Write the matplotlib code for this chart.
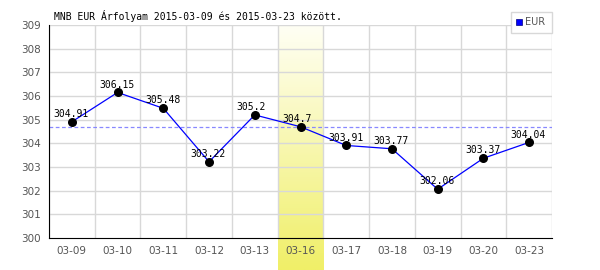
import numpy as np
import matplotlib
matplotlib.use('Agg')
from matplotlib import pyplot as plt
from matplotlib.colors import LinearSegmentedColormap

dates = ['03-09', '03-10', '03-11', '03-12', '03-13', '03-16',
         '03-17', '03-18', '03-19', '03-20', '03-23']
eur = [304.91, 306.15, 305.48, 303.22, 305.2, 304.7,
       303.91, 303.77, 302.06, 303.37, 304.04]
labels = ['304.91', '306.15', '305.48', '303.22', '305.2', '304.7',
          '303.91', '303.77', '302.06', '303.37', '304.04']
highlight = 5
title = 'MNB EUR Árfolyam 2015-03-09 és 2015-03-23 között.'

fig = plt.figure(figsize=(6, 2.7), dpi=100)
L, R, B, T = 49/600, 552/600, 32/270, 245/270

# yellow highlight band reaching down to the bottom edge
n = len(dates)
bx0 = L + (R - L) * highlight / n
bw = (R - L) / n
bg = fig.add_axes([bx0, 0, bw, T], zorder=0)
cmap = LinearSegmentedColormap.from_list('y', ['#fffff4', '#f0ef68'])
bg.imshow(np.linspace(0, 1, 100).reshape(-1, 1), aspect='auto', cmap=cmap,
          extent=[0, 1, 0, 1], origin='upper')
bg.axis('off')

ax = fig.add_axes([L, B, R - L, T - B], zorder=1)
ax.patch.set_alpha(0)
x = np.arange(n)
ax.set_xlim(-0.5, n - 0.5)
ax.set_ylim(300, 309)
ax.set_yticks(range(300, 310))
ax.set_xticks(x)
ax.set_xticklabels(dates)
for v in np.arange(-0.5, n, 1):
    ax.axvline(v, color='#d8d8d8', lw=1, zorder=0)
for v in range(301, 310):
    ax.axhline(v, color='#d8d8d8', lw=1, zorder=0)
ax.axhline(eur[highlight], color='#8888ff', lw=0.9, ls=(0, (3, 2)), zorder=1)

ax.plot(x, eur, color='#0000ff', lw=0.9, zorder=2)
ax.scatter(x, eur, s=30, color='black', zorder=3)
for i, (xv, yv) in enumerate(zip(x, eur)):
    ax.text(xv - 0.4, yv + 0.12, labels[i], family='DejaVu Sans Mono',
            fontsize=7, color='black', ha='left', va='bottom', zorder=4)

for s in ['top', 'right']:
    ax.spines[s].set_visible(False)
ax.spines['left'].set_color('black')
ax.spines['bottom'].set_color('black')
ax.tick_params(length=0, labelsize=7.5, colors='#555555', pad=6)

fig.text(54/600, 1 - 16/270, title, family='DejaVu Sans Mono', fontsize=7,
         va='center', ha='left')

# legend box
lg = plt.Rectangle((511/600, 1 - 33/270), 41/600, 21/270, transform=fig.transFigure,
                   facecolor='white', edgecolor='#d8d8d8', lw=1, zorder=5)
fig.patches.append(lg)
fig.patches.append(plt.Rectangle((516/600, 1 - 25/270), 6/600, 6/270,
                                 transform=fig.transFigure, facecolor='#0000ff',
                                 edgecolor='#000080', lw=0.5, zorder=6))
fig.text(525/600, 1 - 22/270, 'EUR', fontsize=7, color='#555555', va='center', zorder=6)

fig.savefig('out.png', dpi=100)
